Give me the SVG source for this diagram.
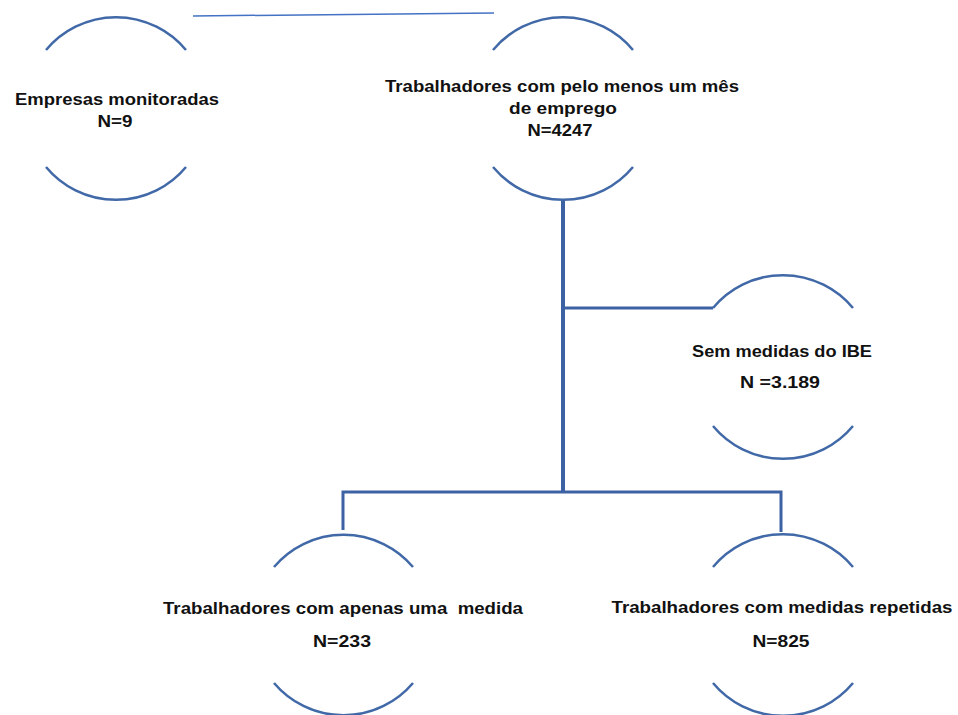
<svg xmlns="http://www.w3.org/2000/svg" width="958" height="715" viewBox="0 0 958 715">
<style>
.arc{fill:none;stroke:#4169A8;stroke-width:2.5}
.conn{fill:none;stroke:#3D62A4;stroke-width:3}
.t{font-family:"Liberation Sans",Arial,sans-serif;font-weight:bold;font-size:17px;fill:#111;text-anchor:middle;white-space:pre}
</style>
<rect width="958" height="715" fill="#fff"/>
<g id="connectors">
<line x1="193" y1="16" x2="494" y2="13" stroke="#4472C4" stroke-width="1.5"/>
<line class="conn" x1="563" y1="200" x2="563" y2="492" style="stroke-width:4"/>
<line class="conn" x1="563" y1="308" x2="713" y2="308"/>
<polyline class="conn" points="343,530 343,492 781,492 781,532"/>
</g>
<g id="node-empresas">
<path class="arc" d="M46 50 A91 91 0 0 1 186 50"/>
<path class="arc" d="M46 167 A91 91 0 0 0 186 167"/>
<text class="t" x="117" y="105" textLength="204" lengthAdjust="spacingAndGlyphs">Empresas monitoradas</text>
<text class="t" x="115" y="127" textLength="35" lengthAdjust="spacingAndGlyphs">N=9</text>
</g>
<g id="node-trabalhadores">
<path class="arc" d="M493 50 A91 91 0 0 1 633 50"/>
<path class="arc" d="M493 167 A91 91 0 0 0 633 167"/>
<text class="t" x="562" y="92" textLength="354" lengthAdjust="spacingAndGlyphs">Trabalhadores com pelo menos um mês</text>
<text class="t" x="563" y="114" textLength="108" lengthAdjust="spacingAndGlyphs">de emprego</text>
<text class="t" x="560" y="136" textLength="65" lengthAdjust="spacingAndGlyphs">N=4247</text>
</g>
<g id="node-sem-medidas">
<path class="arc" d="M713 308 A91 91 0 0 1 853 308"/>
<path class="arc" d="M713 426 A91 91 0 0 0 853 426"/>
<text class="t" x="782" y="357" textLength="180" lengthAdjust="spacingAndGlyphs">Sem medidas do IBE</text>
<text class="t" x="780" y="388" textLength="80" lengthAdjust="spacingAndGlyphs">N =3.189</text>
</g>
<g id="node-uma-medida">
<path class="arc" d="M274 567 A91 91 0 0 1 413 567"/>
<path class="arc" d="M274 683 A91 91 0 0 0 413 683"/>
<text class="t" x="343" y="614" textLength="360" lengthAdjust="spacingAndGlyphs">Trabalhadores com apenas uma  medida</text>
<text class="t" x="342" y="647" textLength="58" lengthAdjust="spacingAndGlyphs">N=233</text>
</g>
<g id="node-repetidas">
<path class="arc" d="M713 567 A91 91 0 0 1 853 567"/>
<path class="arc" d="M713 683 A91 91 0 0 0 853 683"/>
<text class="t" x="782" y="613" textLength="341" lengthAdjust="spacingAndGlyphs">Trabalhadores com medidas repetidas</text>
<text class="t" x="781" y="647" textLength="57" lengthAdjust="spacingAndGlyphs">N=825</text>
</g>
</svg>
